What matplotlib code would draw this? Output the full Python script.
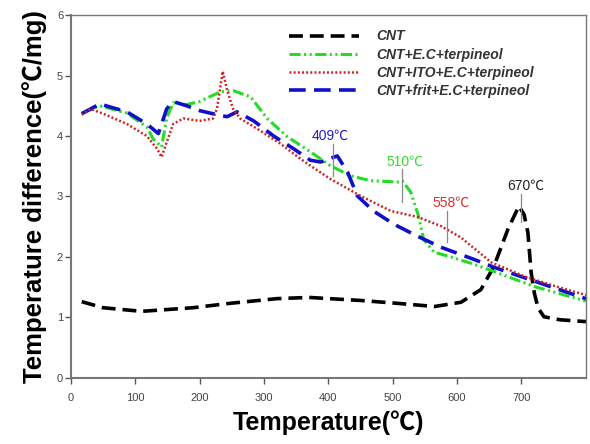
import matplotlib
matplotlib.use("Agg")
import matplotlib.pyplot as plt

plt.rcParams['font.family'] = ['Liberation Sans', 'Noto Sans CJK JP', 'DejaVu Sans']
plt.rcParams['lines.scale_dashes'] = False

# Data
cnt_x = [17, 50, 110, 190, 245, 320, 370, 450, 510, 565, 606, 637, 657, 679, 696, 704, 710, 715, 720, 726, 735, 760, 800]
cnt_y = [1.26, 1.16, 1.10, 1.16, 1.23, 1.31, 1.33, 1.28, 1.23, 1.18, 1.25, 1.46, 1.84, 2.46, 2.84, 2.70, 2.40, 1.74, 1.40, 1.15, 1.01, 0.96, 0.93]

ec_x = [17, 45, 87, 118, 128, 141, 149, 159, 180, 200, 232, 252, 279, 305, 336, 372, 403, 435, 466, 508, 515, 528, 540, 548, 564, 590, 626, 657, 720, 800]
ec_y = [4.37, 4.50, 4.38, 4.15, 3.95, 3.82, 4.30, 4.55, 4.52, 4.57, 4.73, 4.75, 4.65, 4.29, 3.99, 3.74, 3.51, 3.34, 3.26, 3.24, 3.26, 3.07, 2.68, 2.29, 2.08, 2.00, 1.88, 1.76, 1.51, 1.27]

ito_x = [17, 30, 50, 87, 118, 134, 141, 149, 159, 175, 200, 221, 227, 236, 243, 252, 263, 294, 326, 357, 372, 403, 450, 497, 539, 575, 606, 653, 704, 757, 800]
ito_y = [4.35, 4.45, 4.37, 4.20, 4.00, 3.79, 3.65, 3.90, 4.20, 4.29, 4.25, 4.29, 4.45, 5.07, 4.75, 4.45, 4.29, 4.09, 3.87, 3.62, 3.51, 3.29, 3.01, 2.76, 2.66, 2.51, 2.32, 1.91, 1.68, 1.50, 1.37]

frit_x = [17, 45, 87, 118, 136, 149, 159, 180, 200, 232, 243, 258, 284, 315, 346, 372, 388, 400, 414, 430, 445, 470, 502, 539, 575, 626, 657, 720, 800]
frit_y = [4.37, 4.53, 4.40, 4.20, 4.04, 4.45, 4.57, 4.50, 4.42, 4.34, 4.32, 4.40, 4.25, 4.00, 3.79, 3.60, 3.57, 3.62, 3.67, 3.40, 3.01, 2.76, 2.54, 2.34, 2.16, 1.96, 1.83, 1.60, 1.31]

labels = ['CNT', 'CNT+E.C+terpineol', 'CNT+ITO+E.C+terpineol', 'CNT+frit+E.C+terpineol']

# annotations
ann_text = ['409\u2103', '510\u2103', '558\u2103', '670\u2103']
ann_line_x = [408, 514, 584, 699]
ann_line_top = [3.87, 3.45, 2.76, 3.04]
ann_line_bot = [3.34, 2.91, 2.24, 2.57]
ann_text_x = [403, 519, 590, 707]
ann_text_y = [4.00, 3.57, 2.89, 3.17]
ann_colors = ['#2020c0', '#30dd30', '#d83030', '#222222']

fig = plt.figure(figsize=(5.9, 4.44), dpi=100)
ax = fig.add_axes([0.120, 0.149, 0.873, 0.817])

ax.plot(cnt_x, cnt_y, color='black', lw=2.6, dashes=(10, 5), label=labels[0], zorder=3)
ax.plot(ec_x, ec_y, color='#22dd22', lw=2.2, dashes=(8, 2.5, 1.5, 2.5, 1.5, 2.5), label=labels[1], zorder=4)
ax.plot(ito_x, ito_y, color='#d02020', lw=1.8, dashes=(1.4, 1.6), label=labels[2], zorder=5)
ax.plot(frit_x, frit_y, color='#1010c8', lw=2.6, dashes=(12, 6), label=labels[3], zorder=4)

for t, lx, lt, lb, tx, ty, c in zip(ann_text, ann_line_x, ann_line_top, ann_line_bot, ann_text_x, ann_text_y, ann_colors):
    ax.plot([lx, lx], [lb, lt], color='#888888', lw=0.9, zorder=6)
    ax.text(tx, ty, t, color=c, fontsize=10, ha='center', va='center', zorder=7)

ax.set_xlim(0, 800)
ax.set_ylim(0, 6)
ax.set_xticks([0, 100, 200, 300, 400, 500, 600, 700])
ax.set_yticks([0, 1, 2, 3, 4, 5, 6])
ax.tick_params(direction='out', length=4, width=1, colors='#555555', labelsize=8, labelcolor='#444444')
ax.tick_params(axis='x', pad=7)
ax.tick_params(axis='y', pad=1.5)
for s in ax.spines.values():
    s.set_color('#777777')
    s.set_linewidth(1.0)
ax.spines['left'].set_linewidth(1.5)
ax.spines['bottom'].set_linewidth(1.5)

ax.set_xlabel('Temperature(\u2103)', fontsize=18, fontweight='bold', labelpad=5)
ax.set_ylabel('Temperature difference(\u2103/mg)', fontsize=18.5, fontweight='bold', labelpad=7)

leg = ax.legend(loc='upper left', bbox_to_anchor=(0.40, 0.995), frameon=False,
                handlelength=5.0, handletextpad=1.3, labelspacing=0.3,
                prop={'size': 10, 'style': 'italic', 'weight': 'bold'})
for t in leg.get_texts():
    t.set_color('#333333')

fig.savefig('out.png', dpi=100)
